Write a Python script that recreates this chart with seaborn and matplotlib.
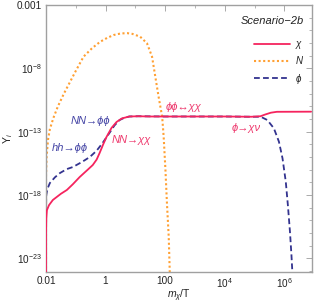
import numpy as np
import pandas as pd
import matplotlib
matplotlib.use("Agg")
import matplotlib.pyplot as plt
from matplotlib.ticker import FixedLocator, NullFormatter
import seaborn as sns

# ---- data (log10 values) ----
chi_lx = [-2.0, -2.0, -1.99, -1.97, -1.9, -1.77, -1.5, -1.3, -1.1, -0.87, -0.6, -0.43, -0.3, -0.2,
          -0.08, 0.03, 0.2, 0.37, 0.55, 0.8, 1.1, 1.5, 2.0, 3.0, 4.0, 4.9, 5.2, 5.35, 5.55, 5.75, 6.9]
chi_ly = [-24.5, -21.0, -19.8, -19.2, -18.8, -18.39, -17.9, -17.6, -17.15, -16.58, -16.0, -15.63, -15.2, -14.68,
          -14.0, -13.42, -12.7, -12.23, -11.95, -11.8, -11.78, -11.8, -11.8, -11.8, -11.8, -11.82, -11.78, -11.65, -11.5, -11.43, -11.42]

n_lx = [-2.0, -2.0, -1.98, -1.93, -1.87, -1.75, -1.6, -1.4, -1.2, -1.0, -0.74, -0.45, -0.18, 0.05, 0.27, 0.5,
        0.72, 0.9, 1.16, 1.39, 1.56, 1.67, 1.78, 1.9, 1.95, 2.01, 2.06, 2.12, 2.16]
n_ly = [-24.5, -16.5, -14.97, -13.6, -12.8, -11.9, -11.0, -10.0, -9.1, -8.2, -7.08, -6.4, -5.9, -5.6, -5.37, -5.25,
        -5.22, -5.28, -5.5, -6.02, -7.08, -8.66, -10.24, -11.82, -13.39, -16.02, -18.63, -21.29, -24.5]

phi_lx = [-2.0, -2.0, -1.99, -1.95, -1.87, -1.7, -1.53, -1.3, -1.1, -0.8, -0.53, -0.3, -0.1, 0.13, 0.3, 0.47,
          0.65, 0.8, 1.1, 2.0, 3.0, 4.0, 4.87, 5.21, 5.43, 5.65, 5.82, 5.94, 6.05, 6.12, 6.19, 6.24, 6.28]
phi_ly = [-24.5, -19.0, -18.0, -17.5, -17.05, -16.6, -16.26, -15.95, -15.79, -15.4, -15.0, -14.5, -13.89, -13.1, -12.5, -12.08,
          -11.88, -11.8, -11.78, -11.8, -11.8, -11.8, -11.82, -11.82, -12.08, -12.73, -13.79, -15.1, -16.95, -18.79, -20.89, -22.73, -24.5]

series_names = ["χ", "N", "ϕ"]
x_ticks = [0.01, 1, 100, 1e4, 1e6]
x_ticklabels = ["0.01", "1", "100", r"$\mathregular{10^{4}}$", r"$\mathregular{10^{6}}$"]
y_ticks = [1e-3, 1e-8, 1e-13, 1e-18, 1e-23]
y_ticklabels = ["0.001", r"$\mathregular{10^{-8}}$", r"$\mathregular{10^{-13}}$",
                r"$\mathregular{10^{-18}}$", r"$\mathregular{10^{-23}}$"]

df = pd.concat([
    pd.DataFrame({"x": 10.0 ** np.array(chi_lx), "y": 10.0 ** np.array(chi_ly), "s": series_names[0]}),
    pd.DataFrame({"x": 10.0 ** np.array(n_lx), "y": 10.0 ** np.array(n_ly), "s": series_names[1]}),
    pd.DataFrame({"x": 10.0 ** np.array(phi_lx), "y": 10.0 ** np.array(phi_ly), "s": series_names[2]}),
], ignore_index=True)

sns.set_style("white")
plt.rcParams["font.family"] = ["Liberation Sans", "DejaVu Sans"]
plt.rcParams["mathtext.fontset"] = "custom"
plt.rcParams["mathtext.rm"] = "Liberation Sans"
plt.rcParams["mathtext.it"] = "Liberation Sans:italic"

RED = "#F5245E"
ORANGE = "#FFA033"
NAVY = "#33338F"
RED_T = "#EE3A6E"
NAVY_T = "#4545A5"

fig = plt.figure(figsize=(3.16, 3.06), dpi=100)
ax = fig.add_axes([46 / 316, 1 - 271.7 / 306, 265.7 / 316, 266.7 / 306])

styles = {
    series_names[0]: dict(color=RED, lw=1.3, linestyle="-"),
    series_names[1]: dict(color=ORANGE, lw=1.5, linestyle=(0, (1.0, 1.2))),
    series_names[2]: dict(color=NAVY, lw=1.3, linestyle=(0, (3.2, 1.8))),
}
for name in [series_names[1], series_names[2], series_names[0]]:
    sub = df[df["s"] == name]
    st = styles[name]
    sns.lineplot(data=sub, x="x", y="y", ax=ax, sort=False, estimator=None,
                 color=st["color"], lw=st["lw"], linestyle=st["linestyle"], label=name,
                 zorder=3 if name == series_names[0] else 2)

ax.set_xscale("log")
ax.set_yscale("log")
ax.set_xlim(0.01, 10 ** 6.92)
ax.set_ylim(10 ** -24.05, 1e-3)

ax.xaxis.set_major_locator(FixedLocator(x_ticks))
ax.set_xticklabels(x_ticklabels)
ax.xaxis.set_minor_locator(FixedLocator([10.0 ** k for k in range(-1, 7, 2)]))
ax.xaxis.set_minor_formatter(NullFormatter())
ax.yaxis.set_major_locator(FixedLocator(y_ticks))
ax.set_yticklabels(y_ticklabels)
ax.yaxis.set_minor_locator(FixedLocator([10.0 ** k for k in range(-24, -3)]))
ax.yaxis.set_minor_formatter(NullFormatter())

ax.tick_params(which="both", direction="in", top=True, right=True, color="#aaaaaa",
               labelsize=7.2, labelcolor="#222222", pad=3)
ax.tick_params(which="major", length=4, width=0.7)
ax.tick_params(which="minor", length=2, width=0.6)
for sp in ax.spines.values():
    sp.set_color("#a0a0a0")
    sp.set_linewidth(1.0)

ax.set_xlabel(r"$m_\chi\mathregular{/T}$", fontsize=7.5, color="#222222")
ax.xaxis.set_label_coords(0.5, -0.06)
ax.set_ylabel(r"$\mathregular{Y}_i$", fontsize=7.5, color="#222222", labelpad=1)

# legend
order = [series_names[0], series_names[1], series_names[2]]
handles, labels = ax.get_legend_handles_labels()
hmap = dict(zip(labels, handles))
leg = ax.legend([hmap[k] for k in order], order, loc="upper right", bbox_to_anchor=(1.0, 0.905),
                frameon=False, handlelength=3.7, labelspacing=0.75, handletextpad=0.6,
                prop={"size": 7, "style": "italic"})
for t in leg.get_texts():
    t.set_color("#222222")

tkw = dict(transform=ax.transAxes, fontsize=8, style="italic", va="center", ha="left")
ax.text(0.971, 0.94, "Scenario\u22122b", transform=ax.transAxes, fontsize=8, style="italic",
        va="center", ha="right", color="#222222")
ax.text(0.452, 0.618, "ϕϕ\u2194χχ", color=RED_T, **tkw)
ax.text(0.700, 0.539, "ϕ\u2192χν", color=RED_T, **tkw)
ax.text(0.094, 0.565, "NN\u2192ϕϕ", color=NAVY_T, **tkw)
ax.text(0.248, 0.494, "NN\u2192χχ", color=RED_T, **tkw)
ax.text(0.023, 0.464, "hh\u2192ϕϕ", color=NAVY_T, **tkw)

fig.savefig("out.png", dpi=100)
